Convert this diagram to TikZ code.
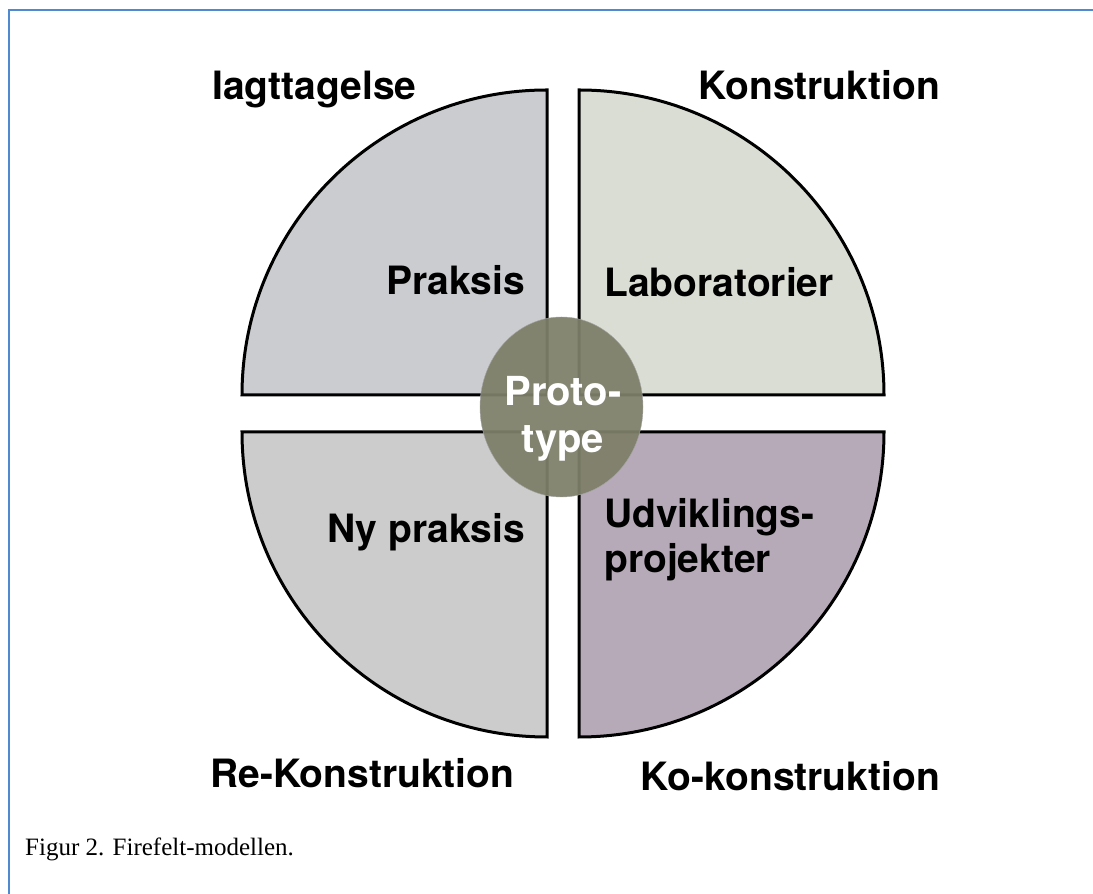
\documentclass[tikz,border=0pt]{standalone}
\usepackage{fontspec}
\setmainfont{TeX Gyre Heros}
\newfontfamily\capfont{Liberation Serif}
\usetikzlibrary{shapes.geometric}
\definecolor{frameblue}{RGB}{79,137,208}
\definecolor{fieldA}{RGB}{203,204,207}
\definecolor{fieldB}{RGB}{218,221,212}
\definecolor{fieldC}{RGB}{204,204,204}
\definecolor{fieldD}{RGB}{182,170,184}
\definecolor{coreC}{RGB}{126,127,106}

\begin{document}
\begin{tikzpicture}
[x=1pt,y=1pt,
quarter/.style={draw=black, line width=3pt},
title/.style={font=\fontsize{39}{47}\selectfont\bfseries, inner sep=0pt},
field/.style={font=\fontsize{39}{45}\selectfont\bfseries, inner sep=0pt, align=left},
core/.style={ellipse, fill=coreC, fill opacity=0.94, draw=gray!70, thin,
  minimum width=163pt, minimum height=180pt, inner sep=0pt},
coretext/.style={font=\fontsize{40}{47}\selectfont\bfseries, text=white, align=center, inner sep=0pt}]
  \useasboundingbox (0,0) rectangle (1093,894);
  \draw [frameblue, line width=2.5pt] (9,0) -- (9,884) -- (1093,884);
  % four fields
  \draw [quarter, fill=fieldA] (547,499) -- (242,499) arc [start angle=180, end angle=90, radius=305pt] -- cycle;
  \draw [quarter, fill=fieldB] (579,499) -- (579,804) arc [start angle=90, end angle=0, radius=305pt] -- cycle;
  \draw [quarter, fill=fieldC] (547,462) -- (242,462) arc [start angle=180, end angle=270, radius=305pt] -- cycle;
  \draw [quarter, fill=fieldD] (579,462) -- (884,462) arc [start angle=0, end angle=-90, radius=305pt] -- cycle;
  \node [field, anchor=base east] (praksis) at (525,599) {Praksis};
  \node [field, anchor=base west] (lab) at (604,597) {Laboratorier};
  \node [field, anchor=base east] (nypraksis) at (525,351) {Ny praksis};
  \node [field, anchor=north west] (udv) at (604,396) {Udviklings-\\projekter};
  % centre
  \node [core] (proto) at (561.5,487) {};
  \node [coretext] (prototxt) at (563,475.5) {Proto-\\type};
  % corner titles
  \node [title, anchor=base west] (obs) at (212,794) {Iagttagelse};
  \node [title, anchor=base east] (kon) at (940,794) {Konstruktion};
  \node [title, anchor=base west] (rekon) at (210,106) {Re-Konstruktion};
  \node [title, anchor=base east] (kokon) at (940,103) {Ko-konstruktion};
  \node [anchor=base west, inner sep=0pt, font=\capfont\fontsize{25}{30}\selectfont] (caption) at (25,38) {Figur 2. Firefelt-modellen.};
\end{tikzpicture}
\end{document}
